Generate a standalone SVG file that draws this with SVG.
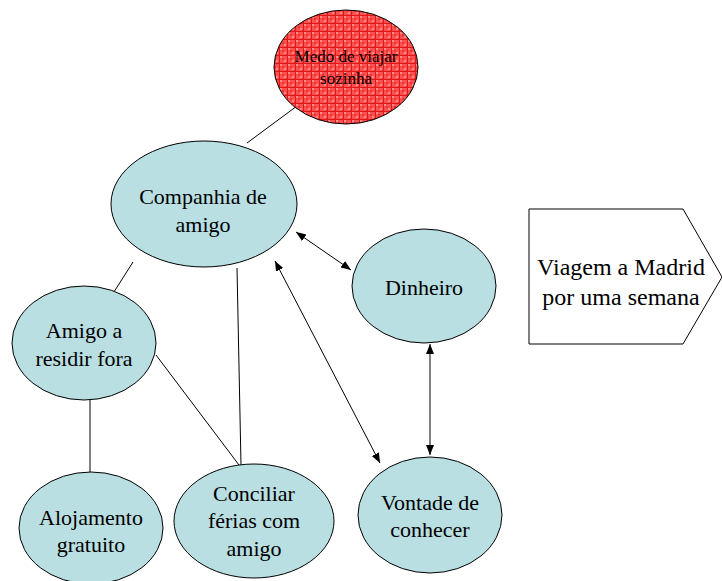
<svg xmlns="http://www.w3.org/2000/svg" width="722" height="581" viewBox="0 0 722 581">
<style>
.n{fill:#b9dfe2;stroke:#000;stroke-width:1}
text{font-family:'Liberation Serif','Times New Roman','DejaVu Serif',serif;font-size:22px;fill:#000;text-anchor:middle}
text.s{font-size:17px}
text.b{font-size:24px}
.c{stroke:#000;stroke-width:1;fill:none}
</style>
<defs>
<pattern id="hatch" width="8" height="8" patternUnits="userSpaceOnUse">
<rect width="8" height="8" fill="#ff4f4f"/>
<rect x="0" y="0" width="2" height="2" fill="#ff8c8c"/>
<rect x="4" y="4" width="2" height="2" fill="#ff8c8c"/>
<rect x="2" y="2" width="2" height="2" fill="#ea3535"/>
<rect x="6" y="6" width="2" height="2" fill="#ea3535"/>
<path d="M7.5 0V8M0 7.5H8" stroke="#e01818" stroke-width="1"/>
</pattern>
<marker id="ah" viewBox="0 0 10 10" refX="10" refY="5" markerWidth="10" markerHeight="10" markerUnits="userSpaceOnUse" orient="auto-start-reverse">
<path d="M0 1L10 5L0 9Z" fill="#000"/>
</marker>
</defs>
<g id="connectors">
<line class="c" x1="247" y1="143" x2="297" y2="106"/>
<line class="c" x1="133" y1="262" x2="112" y2="295"/>
<line class="c" x1="237" y1="268" x2="241" y2="465"/>
<line class="c" x1="156" y1="355" x2="239" y2="465"/>
<line class="c" x1="90" y1="400" x2="90" y2="472"/>
<line class="c" x1="296" y1="232" x2="351" y2="270" marker-start="url(#ah)" marker-end="url(#ah)"/>
<line class="c" x1="275" y1="261" x2="380" y2="463" marker-start="url(#ah)" marker-end="url(#ah)"/>
<line class="c" x1="430" y1="344" x2="430" y2="455" marker-start="url(#ah)" marker-end="url(#ah)"/>
</g>
<g id="medo">
<ellipse cx="346" cy="67" rx="72" ry="57" fill="url(#hatch)" stroke="#000"/>
<text class="s" x="346" y="62">Medo de viajar</text>
<text class="s" x="346" y="84">sozinha</text>
</g>
<g id="companhia">
<ellipse class="n" cx="204" cy="204" rx="93" ry="63"/>
<text x="203" y="204">Companhia de</text>
<text x="203" y="232">amigo</text>
</g>
<g id="dinheiro">
<ellipse class="n" cx="424" cy="286" rx="72" ry="57"/>
<text x="424" y="295">Dinheiro</text>
</g>
<g id="amigo">
<ellipse class="n" cx="84" cy="343" rx="72" ry="57"/>
<text x="84" y="338">Amigo a</text>
<text x="84" y="366">residir fora</text>
</g>
<g id="alojamento">
<ellipse class="n" cx="91" cy="528" rx="72" ry="56"/>
<text x="91" y="525">Alojamento</text>
<text x="91" y="552">gratuito</text>
</g>
<g id="conciliar">
<ellipse class="n" cx="254" cy="521" rx="80" ry="57"/>
<text x="254" y="501">Conciliar</text>
<text x="254" y="528">férias com</text>
<text x="254" y="556">amigo</text>
</g>
<g id="vontade">
<ellipse class="n" cx="430" cy="515" rx="72" ry="58"/>
<text x="430" y="510">Vontade de</text>
<text x="430" y="537">conhecer</text>
</g>
<g id="viagem">
<polygon points="529,209 683,209 722,277 683,344 529,344" fill="#fff" stroke="#000"/>
<text class="b" x="621" y="275">Viagem a Madrid</text>
<text class="b" x="621" y="305">por uma semana</text>
</g>
</svg>
